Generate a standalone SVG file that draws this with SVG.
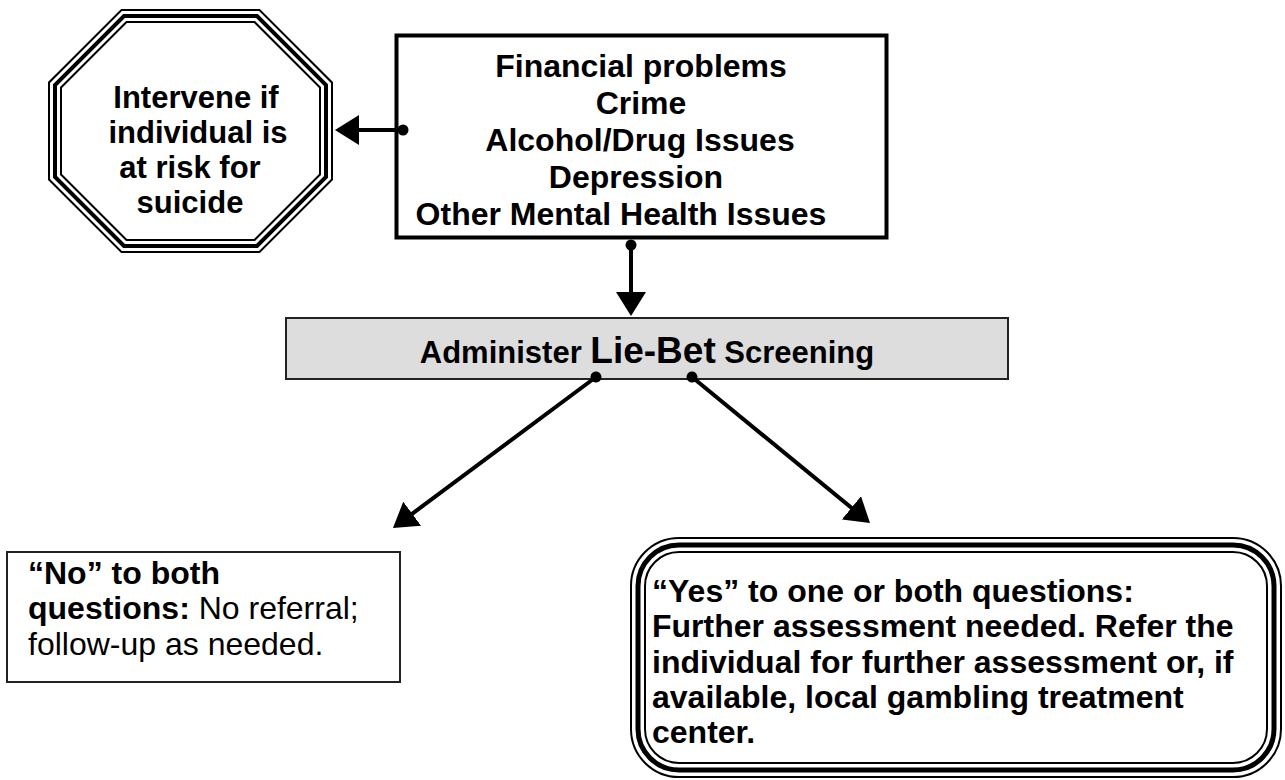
<svg xmlns="http://www.w3.org/2000/svg" width="1285" height="780" viewBox="0 0 1285 780">
  <style>
    text { font-family: "Liberation Sans", Arial, sans-serif; fill: #000; }
    .b { font-weight: bold; }
    .t32 { font-size: 32px; }
    .oct { font-size: 31px; font-weight: bold; }
    .conn { stroke: #000; stroke-width: 4; fill: none; }
  </style>
  <defs>
    <marker id="head" markerUnits="userSpaceOnUse" viewBox="0 0 24 30" refX="6" refY="15" markerWidth="24" markerHeight="30" orient="auto">
      <path d="M0,0 L24,15 L0,30 z" fill="#000"/>
    </marker>
    <marker id="dot" markerUnits="userSpaceOnUse" viewBox="0 0 12 12" refX="6" refY="6" markerWidth="12" markerHeight="12" orient="auto">
      <circle cx="6" cy="6" r="5.5" fill="#000"/>
    </marker>
  </defs>
  <rect width="1285" height="780" fill="#fff"/>

  <g id="node-intervene">
    <polygon points="124,16 257,16 326,85 326,177 257,246 124,246 55,177 55,85" fill="#fff" stroke="#000" stroke-width="14" stroke-linejoin="miter"/>
    <polygon points="124,16 257,16 326,85 326,177 257,246 124,246 55,177 55,85" fill="none" stroke="#fff" stroke-width="10" stroke-linejoin="miter"/>
    <polygon points="124,16 257,16 326,85 326,177 257,246 124,246 55,177 55,85" fill="none" stroke="#000" stroke-width="4" stroke-linejoin="miter"/>
    <text class="oct" text-anchor="middle" x="196" y="108">Intervene if</text>
    <text class="oct" text-anchor="middle" x="198" y="143">individual is</text>
    <text class="oct" text-anchor="middle" x="190" y="178">at risk for</text>
    <text class="oct" text-anchor="middle" x="190" y="213">suicide</text>
  </g>

  <g id="node-problems">
    <rect x="396.5" y="35.5" width="490" height="202" fill="#fff" stroke="#000" stroke-width="4"/>
    <text class="b t32" text-anchor="middle" x="641" y="77">Financial problems</text>
    <text class="b t32" text-anchor="middle" x="641" y="114">Crime</text>
    <text class="b t32" text-anchor="middle" x="640" y="151">Alcohol/Drug Issues</text>
    <text class="b t32" text-anchor="middle" x="636" y="188">Depression</text>
    <text class="b t32" text-anchor="middle" x="621" y="225">Other Mental Health Issues</text>
  </g>

  <g id="node-liebet">
    <rect x="286" y="318" width="722" height="61" fill="#dddddd" stroke="#222" stroke-width="2"/>
    <text class="b" text-anchor="middle" x="647" y="363" font-size="31">Administer <tspan font-size="37">Lie-Bet</tspan> Screening</text>
  </g>

  <g id="node-no">
    <rect x="7" y="552" width="393" height="130" fill="#fff" stroke="#222" stroke-width="2"/>
    <text class="t32" x="28" y="584"><tspan class="b">“No” to both</tspan></text>
    <text class="t32" x="28" y="619"><tspan class="b">questions:</tspan> No referral;</text>
    <text class="t32" x="28" y="655">follow-up as needed.</text>
  </g>

  <g id="node-yes">
    <rect x="638" y="545" width="636" height="225" rx="41" ry="41" fill="#fff" stroke="#000" stroke-width="16"/>
    <rect x="638" y="545" width="636" height="225" rx="41" ry="41" fill="none" stroke="#fff" stroke-width="12"/>
    <rect x="638" y="545" width="636" height="225" rx="41" ry="41" fill="none" stroke="#000" stroke-width="5"/>
    <text class="b t32" x="652" y="602">“Yes” to one or both questions:</text>
    <text class="b t32" x="652" y="637">Further assessment needed. Refer the</text>
    <text class="b t32" x="652" y="673">individual for further assessment or, if</text>
    <text class="b t32" x="652" y="708">available, local gambling treatment</text>
    <text class="b t32" x="652" y="743">center.</text>
  </g>

  <g id="connectors">
    <line class="conn" x1="403" y1="130" x2="353" y2="130" marker-start="url(#dot)" marker-end="url(#head)"/>
    <line class="conn" x1="631" y1="245" x2="631" y2="298" marker-start="url(#dot)" marker-end="url(#head)"/>
    <line class="conn" x1="596" y1="377" x2="407.4" y2="517.3" marker-start="url(#dot)" marker-end="url(#head)"/>
    <line class="conn" x1="692" y1="377" x2="856.1" y2="511.6" marker-start="url(#dot)" marker-end="url(#head)"/>
  </g>
</svg>
